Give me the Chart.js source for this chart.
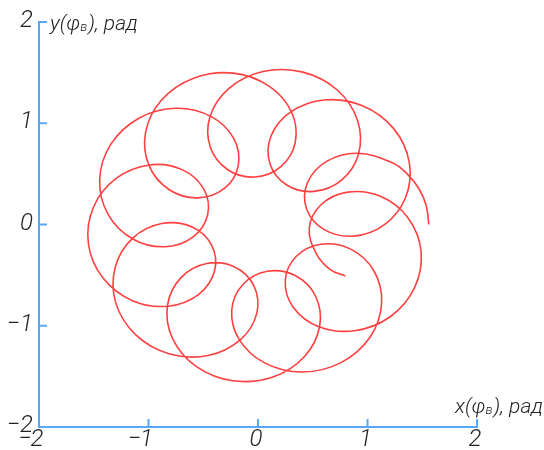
<!DOCTYPE html>
<html>
<head>
<meta charset="utf-8">
<script src="https://cdn.jsdelivr.net/npm/chart.js@4/dist/chart.umd.min.js"></script>
<style>
  html, body { margin: 0; padding: 0; background: #ffffff; }
  #wrap { width: 544px; height: 450px; }
</style>
</head>
<body>
<div id="wrap"><canvas id="c" width="544" height="450"></canvas></div>
<script>
// ---- data ----
const curveX = [1.560, 1.537, 1.470, 1.364, 1.228, 0.913, 0.623, 0.450, 0.445, 0.605, 0.872, 1.152, 1.346, 1.382,
  1.239, 0.954, 0.606, 0.299, 0.118, 0.110, 0.262, 0.512, 0.763, 0.918, 0.910, 0.727,
  0.410, 0.046, -0.265, -0.438, -0.436, -0.276, -0.028, 0.209, 0.340, 0.306, 0.101, -0.228,
  -0.588, -0.881, -1.027, -0.995, -0.810, -0.548, -0.307, -0.181, -0.222, -0.431, -0.750, -1.088,
  -1.345, -1.446, -1.368, -1.143, -0.852, -0.595, -0.460, -0.496, -0.694, -0.991, -1.293, -1.502,
  -1.549, -1.417, -1.146, -0.822, -0.544, -0.397, -0.424, -0.607, -0.880, -1.144, -1.304, -1.299,
  -1.116, -0.806, -0.454, -0.163, -0.012, -0.037, -0.213, -0.469, -0.705, -0.827, -0.780, -0.562,
  -0.226, 0.137, 0.425, 0.563, 0.525, 0.339, 0.085, -0.138, -0.240, -0.170, 0.065, 0.406,
  0.758, 1.023, 1.129, 1.058, 0.846, 0.575, 0.348, 0.249, 0.323, 0.556, 0.882, 1.207,
  1.430, 1.489, 1.369, 1.118, 0.820, 0.575, 0.468, 0.534, 0.66, 0.80];
const curveY = [0.000, 0.183, 0.353, 0.498, 0.609, 0.703, 0.621, 0.408, 0.151, -0.051, -0.115, -0.004, 0.262, 0.612,
  0.947, 1.173, 1.230, 1.112, 0.872, 0.598, 0.390, 0.327, 0.438, 0.696, 1.025, 1.326,
  1.505, 1.511, 1.345, 1.066, 0.765, 0.541, 0.469, 0.571, 0.811, 1.111, 1.367, 1.495,
  1.445, 1.229, 0.908, 0.581, 0.343, 0.263, 0.356, 0.580, 0.851, 1.068, 1.148, 1.050,
  0.791, 0.441, 0.098, -0.143, -0.220, -0.124, 0.096, 0.351, 0.542, 0.588, 0.457, 0.173,
  -0.188, -0.527, -0.753, -0.807, -0.692, -0.460, -0.203, -0.022, 0.009, -0.135, -0.422, -0.774,
  -1.090, -1.279, -1.294, -1.140, -0.880, -0.606, -0.419, -0.386, -0.527, -0.802, -1.127, -1.404,
  -1.544, -1.506, -1.303, -1.005, -0.706, -0.504, -0.462, -0.592, -0.847, -1.139, -1.369, -1.457,
  -1.364, -1.114, -0.778, -0.457, -0.243, -0.195, -0.316, -0.554, -0.819, -1.009, -1.049, -0.911,
  -0.623, -0.264, 0.067, 0.279, 0.320, 0.195, -0.040, -0.289, -0.445, -0.51];

const xTickValues = [-2, -1, 0, 1, 2];
const xTickLabels = ['−2', '−1', '0', '1', '2'];
const yTickValues = [-2, -1, 0, 1, 2];
const yTickLabels = ['−2', '−1', '0', '1', '2'];

const xTitle = ['x(φ', 'в', '), рад'];
const yTitle = ['y(φ', 'в', '), рад'];

// ---- styles ----
const AXIS_COLOR = '#58a8f8';
const LINE_COLOR = '#ff4040';
const TEXT_COLOR = '#222222';
const FAM = "Roboto, 'Liberation Sans Narrow', 'DejaVu Sans Condensed', sans-serif";
const TICK_FONT = 'italic 300 24px ' + FAM;
const TITLE_FONT = 'italic 300 21px ' + FAM;
const SUB_FONT = 'italic 300 13px ' + FAM;

const points = curveX.map((x, i) => ({ x: x, y: curveY[i] }));

function drawTitle(ctx, parts, x, baseline, alignRight) {
  ctx.font = TITLE_FONT;
  const w0 = ctx.measureText(parts[0]).width;
  const w2 = ctx.measureText(parts[2]).width;
  ctx.font = SUB_FONT;
  const w1 = ctx.measureText(parts[1]).width;
  const total = w0 + w1 + w2 + 1;
  const sx = alignRight ? x - total : x;
  ctx.textAlign = 'left';
  ctx.textBaseline = 'alphabetic';
  ctx.font = TITLE_FONT;
  ctx.fillText(parts[0], sx, baseline);
  ctx.font = SUB_FONT;
  ctx.fillText(parts[1], sx + w0, baseline + 1);
  ctx.font = TITLE_FONT;
  ctx.fillText(parts[2], sx + w0 + w1 + 1, baseline);
}

const decor = {
  id: 'decor',
  afterDraw(chart) {
    const { ctx, chartArea: a, scales } = chart;
    const xs = scales.x, ys = scales.y;
    ctx.save();
    // inward tick marks
    ctx.strokeStyle = AXIS_COLOR;
    ctx.lineWidth = 2;
    ctx.beginPath();
    xTickValues.forEach(v => {
      if (v === xs.min) return;
      const px = xs.getPixelForValue(v);
      ctx.moveTo(px, a.bottom);
      ctx.lineTo(px, a.bottom - 8);
    });
    yTickValues.forEach(v => {
      if (v === ys.min) return;
      const py = ys.getPixelForValue(v);
      ctx.moveTo(a.left, py);
      ctx.lineTo(a.left + 8, py);
    });
    ctx.stroke();

    // tick labels
    ctx.fillStyle = TEXT_COLOR;
    ctx.font = TICK_FONT;
    ctx.textBaseline = 'middle';
    xTickValues.forEach((v, i) => {
      const px = xs.getPixelForValue(v) - 2;
      const lab = xTickLabels[i];
      const digit = lab.replace('−', '');
      const dw = ctx.measureText(digit).width;
      ctx.textAlign = 'center';
      ctx.fillText(digit, px, a.bottom + 13);
      if (lab.startsWith('−')) {
        ctx.textAlign = 'right';
        ctx.fillText('−', px - dw / 2 + 1, a.bottom + 13);
      }
    });
    yTickValues.forEach((v, i) => {
      const py = ys.getPixelForValue(v) - 1;
      ctx.textAlign = 'right';
      ctx.fillText(yTickLabels[i], a.left - 6, py);
    });

    // axis titles
    drawTitle(ctx, yTitle, a.left + 11, a.top + 8, false);
    drawTitle(ctx, xTitle, 543, a.bottom - 14, true);
    ctx.restore();
  }
};

new Chart(document.getElementById('c'), {
  type: 'scatter',
  data: {
    datasets: [{
      data: points,
      showLine: true,
      borderColor: LINE_COLOR,
      borderWidth: 1.6,
      pointRadius: 0,
      pointHoverRadius: 0,
      tension: 0.38,
      fill: false
    }]
  },
  options: {
    responsive: false,
    devicePixelRatio: 1,
    animation: false,
    layout: { padding: { top: 22, right: 67, left: 0, bottom: 0 } },
    plugins: { legend: { display: false }, tooltip: { enabled: false } },
    scales: {
      x: {
        type: 'linear', min: -2, max: 2,
        ticks: { display: false, stepSize: 1 },
        grid: { drawOnChartArea: false, drawTicks: false },
        border: { display: true, color: AXIS_COLOR, width: 2 },
        afterFit(s) { s.height = 23; }
      },
      y: {
        type: 'linear', min: -2, max: 2,
        ticks: { display: false, stepSize: 1 },
        grid: { drawOnChartArea: false, drawTicks: false },
        border: { display: true, color: AXIS_COLOR, width: 2 },
        afterFit(s) { s.width = 39; }
      }
    }
  },
  plugins: [decor]
});
</script>
</body>
</html>
